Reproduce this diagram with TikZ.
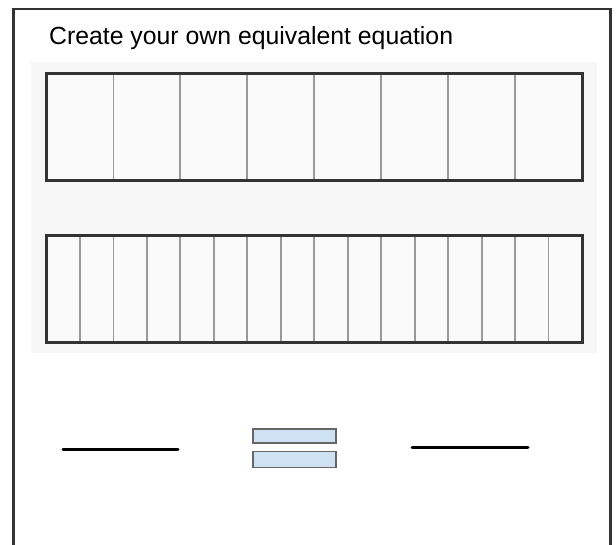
\documentclass[tikz,border=0pt]{standalone}
\usepackage{fontspec}
\setmainfont{Liberation Sans}
\definecolor{eqfill}{HTML}{CFE2F3}
\definecolor{eqline}{HTML}{666666}
\definecolor{framecol}{HTML}{333333}
\begin{document}
\begin{tikzpicture}[x=1pt,y=-1pt,
  frame/.style={line width=2.8pt,draw=framecol},
  panel/.style={fill=black!3,draw=none},
  strip/.style={line width=3pt,draw=black!80,fill=black!2},
  cellline/.style={line width=1.8pt,draw=black!40},
  blank/.style={line width=3pt,draw=black,line cap=round},
  eqbar/.style={line width=1.6pt,draw=eqline,fill=eqfill}
  ]
\useasboundingbox (0,0) rectangle (616,545);
% outer frame (open at the bottom)
\draw[frame] (13.5,550) -- (13.5,9) -- (610.5,9) -- (610.5,550);
% title
\node[anchor=base west,inner sep=0pt,font=\fontsize{24.8pt}{28pt}\selectfont] (title) at (49,45) {Create your own equivalent equation};
% grey panel
\path[panel] (31,62) rectangle (597,353);
% first strip: 8 parts
\path[strip] (46.5,74) rectangle (582,181);
\foreach \i in {1,...,7}
  \draw[cellline] ({46.5+\i*66.94},75.5) -- ({46.5+\i*66.94},179.5);
\draw[line width=3pt,draw=black!80] (46.5,74) rectangle (582,181);
% second strip: 16 parts
\path[strip] (46.5,236) rectangle (582,343);
\foreach \i in {1,...,15}
  \draw[cellline] ({46.5+\i*33.47},237.5) -- ({46.5+\i*33.47},341.5);
\draw[line width=3pt,draw=black!80] (46.5,236) rectangle (582,343);
% equation blanks
\coordinate (l1) at (63,449);
\coordinate (l2) at (178,449);
\coordinate (r1) at (412,447);
\coordinate (r2) at (528,447);
\draw[blank] (l1) -- (l2);
\draw[blank] (r1) -- (r2);
% equals sign
\node[eqbar,minimum width=83pt,minimum height=14pt,inner sep=0pt] (eqtop) at (294.5,436) {};
\node[eqbar,minimum width=83pt,minimum height=16pt,inner sep=0pt] (eqbot) at (294.5,459.5) {};
\end{tikzpicture}
\end{document}
